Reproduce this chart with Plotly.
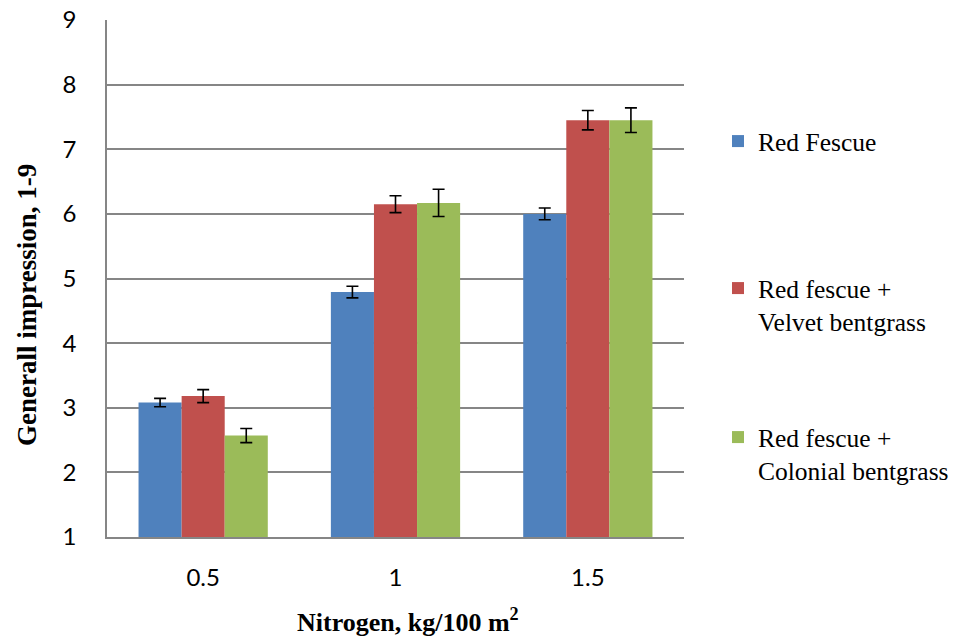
import plotly.graph_objects as go

categories = ["0.5", "1", "1.5"]
series_names = ["Red Fescue", "Red fescue +<br>Velvet bentgrass", "Red fescue +<br>Colonial bentgrass"]
red_fescue = [3.08, 4.79, 6.00]
red_fescue_err = [0.065, 0.09, 0.09]
velvet = [3.18, 6.15, 7.45]
velvet_err = [0.10, 0.13, 0.15]
colonial = [2.57, 6.17, 7.45]
colonial_err = [0.11, 0.21, 0.19]
x_title = "<b>Nitrogen, kg/100 m<sup>2</sup></b>"
y_title = "<b>Generall impression, 1-9</b>"

colors = ["#4F81BD", "#C0504D", "#9BBB59"]
values = [red_fescue, velvet, colonial]
errors = [red_fescue_err, velvet_err, colonial_err]
legend_ids = ["legend", "legend2", "legend3"]

fig = go.Figure()
for name, vals, errs, col, lg in zip(series_names, values, errors, colors, legend_ids):
    fig.add_trace(go.Bar(
        x=categories, y=vals, name=name,
        marker=dict(color=col, line=dict(width=0)),
        error_y=dict(type="data", array=errs, visible=True, color="black", thickness=1.6, width=6),
        legend=lg, showlegend=True,
    ))

legend_font = dict(family="Liberation Serif", size=25.5, color="black")
common_legend = dict(font=legend_font, bgcolor="rgba(0,0,0,0)", valign="top",
                     xref="container", yref="container",
                     xanchor="left", yanchor="top", x=718 / 959, itemwidth=30)

fig.update_layout(
    width=959, height=639,
    margin=dict(l=107, r=275, t=20, b=102),
    paper_bgcolor="white", plot_bgcolor="white",
    showlegend=True,
    barmode="group", bargap=0.328, bargroupgap=0,
    legend=dict(**common_legend, y=1 - 118 / 639),
    legend2=dict(**common_legend, y=1 - 265 / 639),
    legend3=dict(**common_legend, y=1 - 414 / 639),
    xaxis=dict(
        type="category", automargin=False,
        showline=True, linecolor="#868686", linewidth=1.5,
        ticks="", showgrid=False,
        tickfont=dict(family="Lato", size=24, color="black"),
        ticklabelstandoff=18,
    ),
    yaxis=dict(
        range=[1, 9], dtick=1, tick0=1, automargin=False,
        showline=True, linecolor="#868686", linewidth=1.5,
        showgrid=True, gridcolor="#868686", gridwidth=1.5,
        zeroline=False, ticks="",
        tickfont=dict(family="Lato", size=24, color="black"),
        ticklabelstandoff=24,
    ),
    annotations=[
        dict(text=x_title, xref="paper", yref="paper", x=(408 - 107) / 577, y=-(620 - 537) / 517,
             xanchor="center", yanchor="middle", showarrow=False,
             font=dict(family="Liberation Serif", size=26, color="black")),
        dict(text=y_title, xref="paper", yref="paper", x=-(107 - 27) / 577, y=(537 - 305) / 517,
             xanchor="center", yanchor="middle", showarrow=False, textangle=-90,
             font=dict(family="Liberation Serif", size=27, color="black")),
    ],
)

fig.write_html("out.html", config={"displayModeBar": False},
               post_script="document.body.style.margin='0px';")
